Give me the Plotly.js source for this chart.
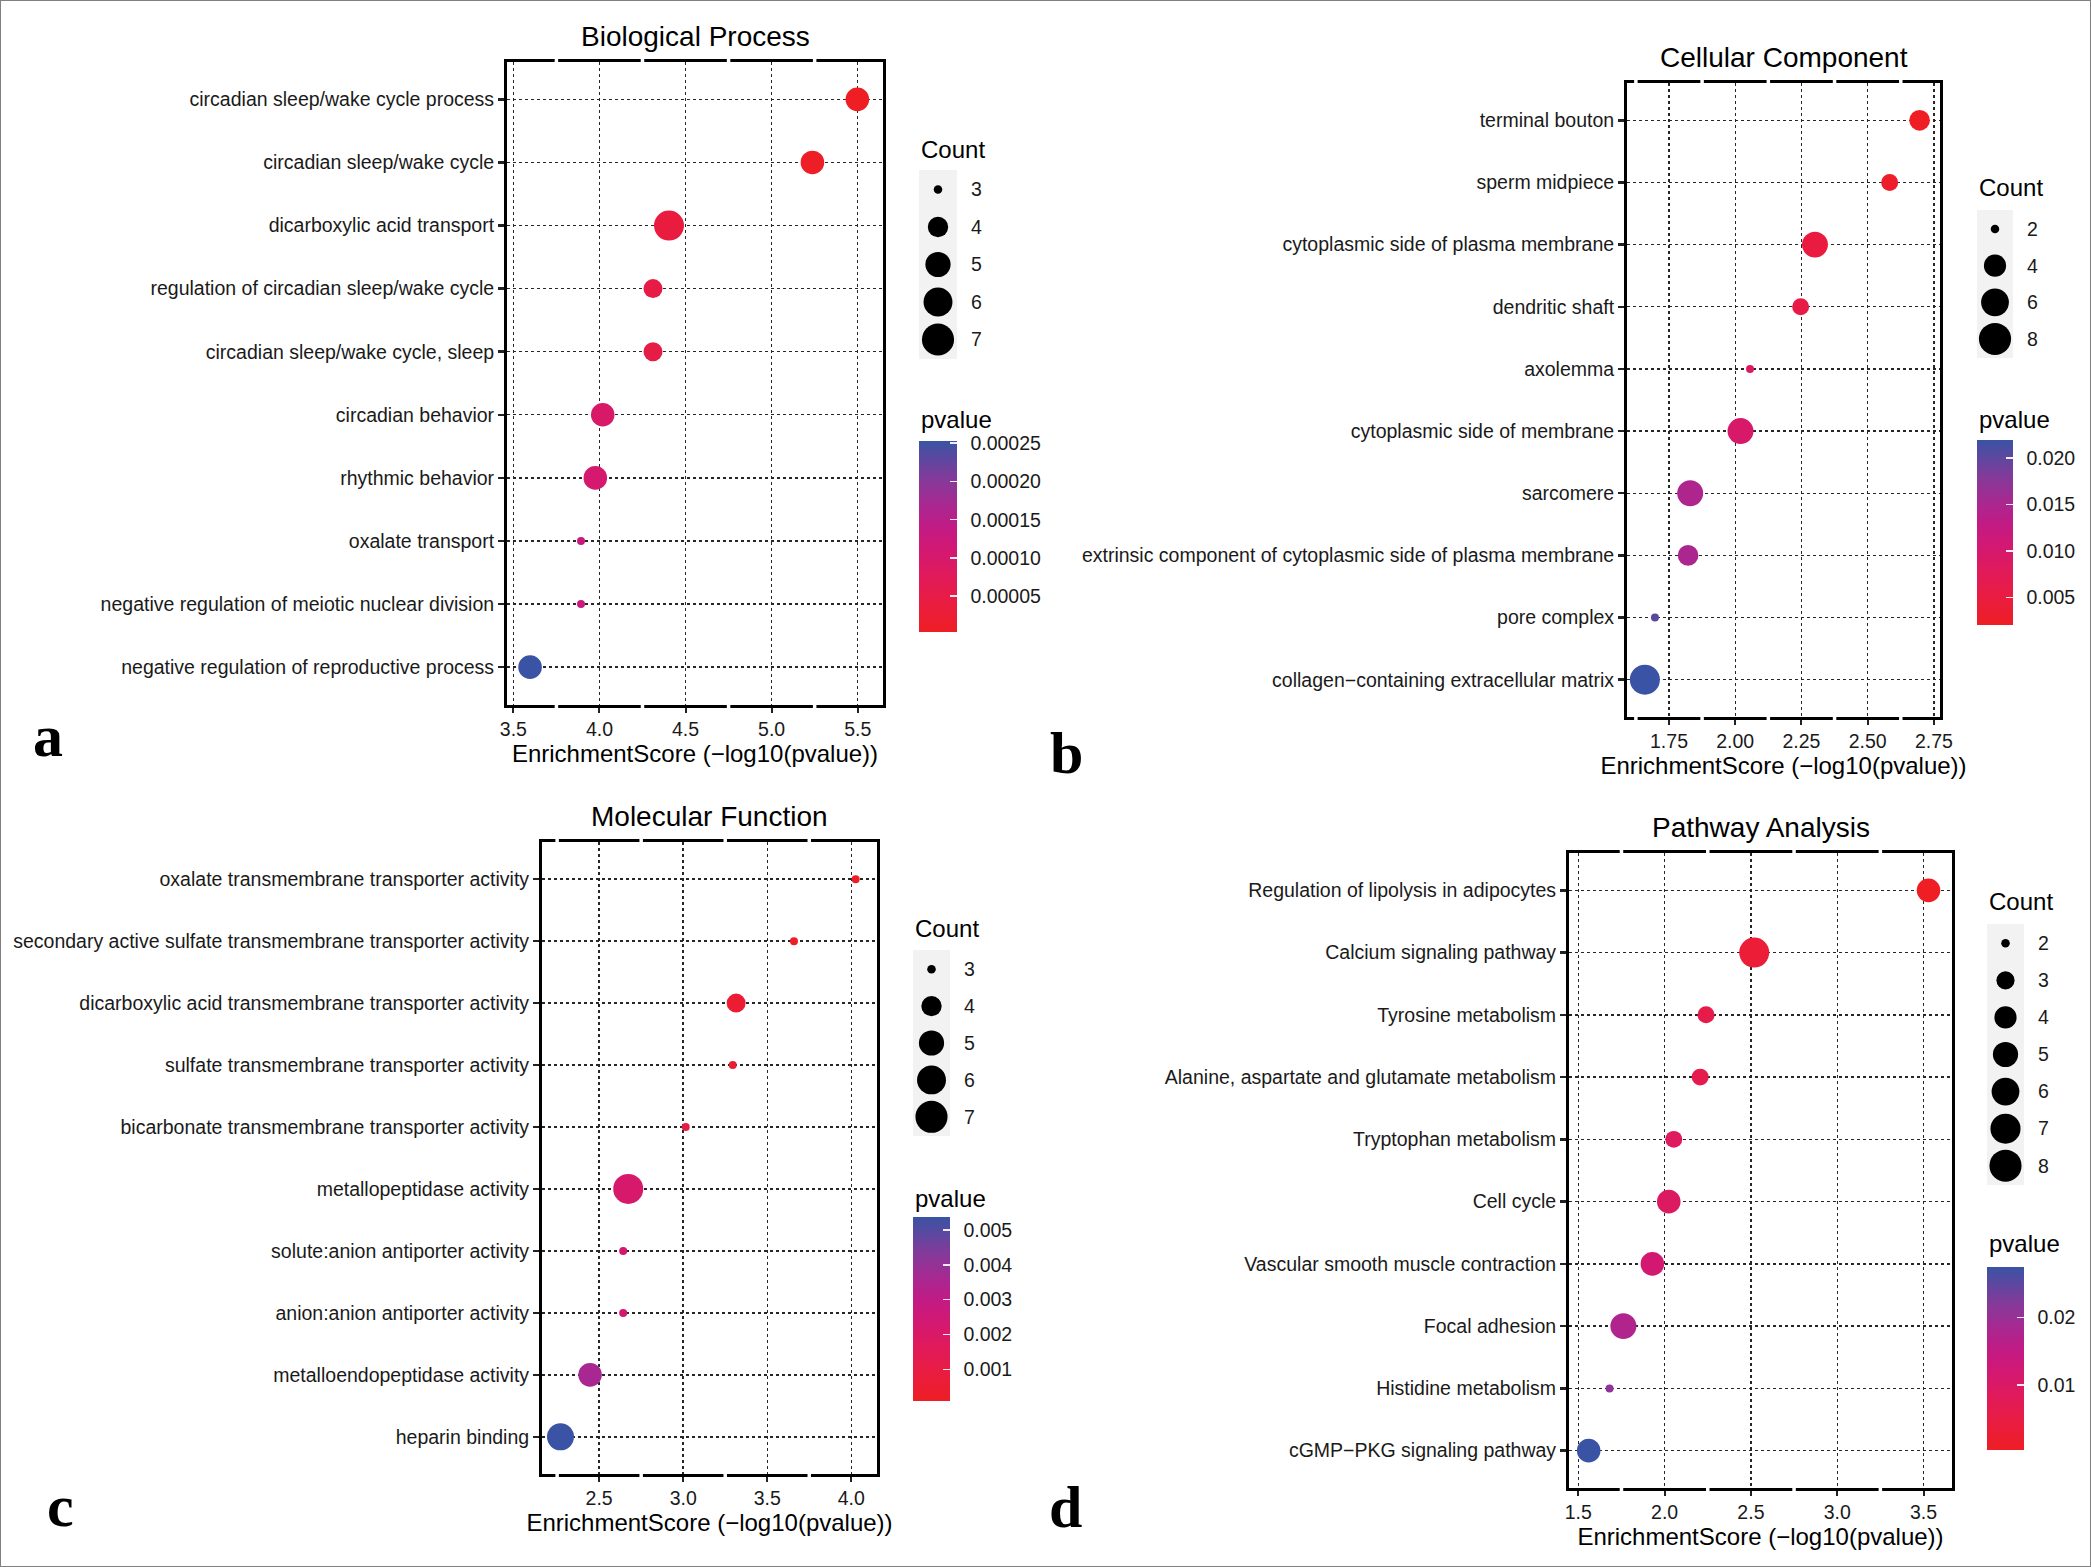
<!DOCTYPE html>
<html>
<head>
<meta charset="utf-8">
<script src="https://cdn.plot.ly/plotly-3.0.1.min.js"></script>
<style>html,body{margin:0;padding:0;background:#fff;}#chart{width:2091px;height:1567px;}</style>
</head>
<body>
<div id="chart"></div>
<script>
// ---------- DATA ----------
// a: Biological Process
const bpTerms = ["circadian sleep/wake cycle process","circadian sleep/wake cycle","dicarboxylic acid transport","regulation of circadian sleep/wake cycle","circadian sleep/wake cycle, sleep","circadian behavior","rhythmic behavior","oxalate transport","negative regulation of meiotic nuclear division","negative regulation of reproductive process"];
const bpScore = [5.498, 5.237, 4.404, 4.311, 4.311, 4.019, 3.976, 3.893, 3.893, 3.597];
const bpCount = [5, 5, 7, 4, 4, 5, 5, 3, 3, 5];
const bpTicks = [3.5, 4.0, 4.5, 5.0, 5.5];
const bpTickText = ["3.5","4.0","4.5","5.0","5.5"];
const bpCountBreaks = [3, 4, 5, 6, 7];
const bpPvalBreaks = [0.00005, 0.00010, 0.00015, 0.00020, 0.00025];
const bpPvalText = ["0.00005","0.00010","0.00015","0.00020","0.00025"];

// b: Cellular Component
const ccTerms = ["terminal bouton","sperm midpiece","cytoplasmic side of plasma membrane","dendritic shaft","axolemma","cytoplasmic side of membrane","sarcomere","extrinsic component of cytoplasmic side of plasma membrane","pore complex","collagen\u2212containing extracellular matrix"];
const ccScore = [2.696, 2.583, 2.301, 2.247, 2.056, 2.020, 1.830, 1.822, 1.697, 1.659];
const ccCount = [4, 3, 6, 3, 2, 6, 6, 4, 2, 8];
const ccTicks = [1.75, 2.00, 2.25, 2.50, 2.75];
const ccTickText = ["1.75","2.00","2.25","2.50","2.75"];
const ccCountBreaks = [2, 4, 6, 8];
const ccPvalBreaks = [0.005, 0.010, 0.015, 0.020];
const ccPvalText = ["0.005","0.010","0.015","0.020"];

// c: Molecular Function
const mfTerms = ["oxalate transmembrane transporter activity","secondary active sulfate transmembrane transporter activity","dicarboxylic acid transmembrane transporter activity","sulfate transmembrane transporter activity","bicarbonate transmembrane transporter activity","metallopeptidase activity","solute:anion antiporter activity","anion:anion antiporter activity","metalloendopeptidase activity","heparin binding"];
const mfScore = [4.026, 3.659, 3.315, 3.295, 3.015, 2.673, 2.643, 2.643, 2.446, 2.270];
const mfCount = [3, 3, 4, 3, 3, 7, 3, 3, 5, 6];
const mfTicks = [2.5, 3.0, 3.5, 4.0];
const mfTickText = ["2.5","3.0","3.5","4.0"];
const mfCountBreaks = [3, 4, 5, 6, 7];
const mfPvalBreaks = [0.001, 0.002, 0.003, 0.004, 0.005];
const mfPvalText = ["0.001","0.002","0.003","0.004","0.005"];

// d: Pathway Analysis
const kgTerms = ["Regulation of lipolysis in adipocytes","Calcium signaling pathway","Tyrosine metabolism","Alanine, aspartate and glutamate metabolism","Tryptophan metabolism","Cell cycle","Vascular smooth muscle contraction","Focal adhesion","Histidine metabolism","cGMP\u2212PKG signaling pathway"];
const kgScore = [3.529, 2.519, 2.240, 2.206, 2.053, 2.024, 1.929, 1.761, 1.681, 1.560];
const kgCount = [5, 8, 3, 3, 3, 5, 5, 6, 2, 5];
const kgTicks = [1.5, 2.0, 2.5, 3.0, 3.5];
const kgTickText = ["1.5","2.0","2.5","3.0","3.5"];
const kgCountBreaks = [2, 3, 4, 5, 6, 7, 8];
const kgPvalBreaks = [0.01, 0.02];
const kgPvalText = ["0.01","0.02"];

const xTitle = "EnrichmentScore (\u2212log10(pvalue))";

// ---------- LAYOUT / STYLE ----------
const W = 2091, H = 1567;
const F = "Liberation Sans, Arial, Helvetica, sans-serif";
const CS = [[0,'rgb(238,30,36)'],[0.15,'rgb(233,28,64)'],[0.3,'rgb(224,26,92)'],[0.45,'rgb(208,24,118)'],[0.55,'rgb(193,27,133)'],[0.65,'rgb(172,38,143)'],[0.8,'rgb(132,58,154)'],[1,'rgb(58,83,164)']];

const panels = [
  {title:"Biological Process", letter:"a", terms:bpTerms, score:bpScore, count:bpCount, ticks:bpTicks, tickText:bpTickText,
   breaks:bpCountBreaks, pvTicks:bpPvalBreaks, pvText:bpPvalText, xr:[3.463,5.647],
   box:{x0:507,x1:883,y0:61.5,y1:705}, leg:{x0:919,x1:957,y0:170,y1:359,countY:149,pvY:420,barTop:441,barBot:632}, lp:[48,736]},
  {title:"Cellular Component", letter:"b", terms:ccTerms, score:ccScore, count:ccCount, ticks:ccTicks, tickText:ccTickText,
   breaks:ccCountBreaks, pvTicks:ccPvalBreaks, pvText:ccPvalText, xr:[1.5915,2.773],
   box:{x0:1627,x1:1940,y0:83,y1:717}, leg:{x0:1977,x1:2013,y0:210,y1:358,countY:188,pvY:420,barTop:440,barBot:625}, lp:[1066,753]},
  {title:"Molecular Function", letter:"c", terms:mfTerms, score:mfScore, count:mfCount, ticks:mfTicks, tickText:mfTickText,
   breaks:mfCountBreaks, pvTicks:mfPvalBreaks, pvText:mfPvalText, xr:[2.160,4.153],
   box:{x0:542,x1:877,y0:842,y1:1474}, leg:{x0:913,x1:950,y0:950,y1:1136,countY:928,pvY:1198,barTop:1217,barBot:1401}, lp:[60,1506]},
  {title:"Pathway Analysis", letter:"d", terms:kgTerms, score:kgScore, count:kgCount, ticks:kgTicks, tickText:kgTickText,
   breaks:kgCountBreaks, pvTicks:kgPvalBreaks, pvText:kgPvalText, xr:[1.446,3.665],
   box:{x0:1569,x1:1952,y0:853,y1:1488}, leg:{x0:1987,x1:2024,y0:924,y1:1185,countY:901.5,pvY:1243,barTop:1267,barBot:1450}, lp:[1065,1507]}
];

const data = [], shapes = [], annotations = [];
const layout = {
  width: W, height: H,
  margin: {l:0, r:0, t:0, b:0, autoexpand:false},
  paper_bgcolor: '#ffffff', plot_bgcolor: 'rgba(0,0,0,0)',
  font: {family: F, color: '#1a1a1a'},
  showlegend: false, hovermode: false
};

panels.forEach((p, k) => {
  const i = k + 1, j = k + 5;
  const xn = i === 1 ? 'x' : 'x' + i, yn = i === 1 ? 'y' : 'y' + i;
  const xk = i === 1 ? 'xaxis' : 'xaxis' + i, yk = i === 1 ? 'yaxis' : 'yaxis' + i;
  const pv = p.score.map(s => Math.pow(10, -s));
  const cmin = Math.min(...pv), cmax = Math.max(...pv);
  const cLo = Math.min(...p.count), cHi = Math.max(...p.count);
  const sz = c => 8 + 22 * Math.sqrt(Math.max(0, (c - cLo)) / (cHi - cLo));

  const cbBase = {
    x: p.leg.x0 / W, xanchor: 'left', xpad: 0,
    y: 1 - p.leg.barTop / H, yanchor: 'top', ypad: 0,
    len: p.leg.barBot - p.leg.barTop, lenmode: 'pixels',
    thickness: p.leg.x1 - p.leg.x0, thicknessmode: 'pixels',
    outlinewidth: 0, borderwidth: 0,
    tickmode: 'array', tickvals: p.pvTicks, ticktext: p.pvText,
    tickfont: {family: F, size: 19.5, color: '#1a1a1a'},
    title: {text: ''}
  };

  // main dots with labelled colorbar
  data.push({
    type: 'scatter', mode: 'markers', x: p.score, y: p.terms, xaxis: xn, yaxis: yn,
    marker: {
      size: p.count.map(sz), color: pv, colorscale: CS, cmin: cmin, cmax: cmax,
      showscale: true, line: {width: 0}, opacity: 1,
      colorbar: Object.assign({}, cbBase, {ticks: 'outside', ticklen: 10, tickwidth: 1, tickcolor: 'rgba(0,0,0,0)'})
    },
    hoverinfo: 'skip', showlegend: false
  });
  // overlay colorbar: white inside tick marks only
  data.push({
    type: 'scatter', mode: 'markers', x: p.score, y: p.terms, xaxis: xn, yaxis: yn,
    marker: {
      size: 1, color: pv, colorscale: CS, cmin: cmin, cmax: cmax, opacity: 0,
      showscale: true, line: {width: 0},
      colorbar: Object.assign({}, cbBase, {showticklabels: false, ticks: 'inside', ticklen: 7, tickwidth: 1.5, tickcolor: 'rgba(255,255,255,0.9)'})
    },
    hoverinfo: 'skip', showlegend: false
  });

  layout[xk] = {
    domain: [p.box.x0 / W, p.box.x1 / W], anchor: yn,
    range: p.xr, tickmode: 'array', tickvals: p.ticks, ticktext: p.tickText,
    showgrid: true, gridcolor: '#262626', gridwidth: 1.4, griddash: 'dot',
    showline: true, mirror: true, linecolor: '#000', linewidth: 3,
    ticks: 'outside', ticklen: 5, tickwidth: 2, tickcolor: '#222',
    tickfont: {family: F, size: 19.5, color: '#1a1a1a'},
    title: {text: xTitle, font: {family: F, size: 24, color: '#000'}, standoff: 4},
    zeroline: false, fixedrange: true
  };
  const n = p.terms.length;
  layout[yk] = {
    domain: [1 - p.box.y1 / H, 1 - p.box.y0 / H], anchor: xn,
    type: 'category', categoryorder: 'array', categoryarray: p.terms,
    range: [n - 0.4, -0.6],
    showgrid: true, gridcolor: '#262626', gridwidth: 1.4, griddash: 'dot',
    showline: true, mirror: true, linecolor: '#000', linewidth: 3,
    ticks: 'outside', ticklen: 6, tickwidth: 2.5, tickcolor: '#222',
    tickfont: {family: F, size: 19.5, color: '#1a1a1a'},
    zeroline: false, fixedrange: true
  };

  // white minor breaks on top/bottom border
  const step = p.ticks[1] - p.ticks[0];
  for (let m = -1; m < p.ticks.length; m++) {
    const v = p.ticks[0] + step / 2 + m * step;
    if (v <= p.xr[0] || v >= p.xr[1]) continue;
    [[-0.006, 0.006], [0.994, 1.006]].forEach(yy => {
      shapes.push({type: 'line', xref: xn, yref: yn + ' domain', x0: v, x1: v, y0: yy[0], y1: yy[1],
                   line: {color: '#ffffff', width: 3.5}, layer: 'above'});
    });
  }

  // panel title
  annotations.push({xref: 'paper', yref: 'paper', x: (p.box.x0 + p.box.x1) / 2 / W, y: 1 - (p.box.y0 - 25.5) / H,
    xanchor: 'center', yanchor: 'middle', showarrow: false, text: p.title,
    font: {family: F, size: 28, color: '#000'}});
  // panel letter
  annotations.push({xref: 'paper', yref: 'paper', x: p.lp[0] / W, y: 1 - p.lp[1] / H,
    xanchor: 'center', yanchor: 'middle', showarrow: false, text: '<b>' + p.letter + '</b>',
    font: {family: 'Liberation Serif, Times New Roman, serif', size: 60, color: '#000'}});
  // legend titles
  annotations.push({xref: 'paper', yref: 'paper', x: p.leg.x0 / W, y: 1 - p.leg.countY / H,
    xanchor: 'left', yanchor: 'middle', showarrow: false, text: 'Count',
    font: {family: F, size: 24, color: '#000'}});
  annotations.push({xref: 'paper', yref: 'paper', x: p.leg.x0 / W, y: 1 - p.leg.pvY / H,
    xanchor: 'left', yanchor: 'middle', showarrow: false, text: 'pvalue',
    font: {family: F, size: 24, color: '#000'}});

  // Count size legend
  const nb = p.breaks.length;
  data.push({
    type: 'scatter', mode: 'markers', x: p.breaks.map(() => 0), y: p.breaks.map((_, q) => q),
    xaxis: 'x' + j, yaxis: 'y' + j,
    marker: {size: p.breaks.map(c => 1.07 * sz(c)), color: '#000000', opacity: 1, line: {width: 0}},
    hoverinfo: 'skip', showlegend: false
  });
  layout['xaxis' + j] = {domain: [p.leg.x0 / W, p.leg.x1 / W], anchor: 'y' + j, range: [-1, 1],
    visible: false, fixedrange: true};
  layout['yaxis' + j] = {domain: [1 - p.leg.y1 / H, 1 - p.leg.y0 / H], anchor: 'x' + j, side: 'right',
    range: [nb - 1 + 0.52, -0.52], tickmode: 'array', tickvals: p.breaks.map((_, q) => q),
    ticktext: p.breaks.map(String), showgrid: false, zeroline: false, showline: false,
    ticks: 'outside', ticklen: 9, tickcolor: 'rgba(0,0,0,0)',
    tickfont: {family: F, size: 19.5, color: '#1a1a1a'}, fixedrange: true};
  shapes.push({type: 'rect', xref: 'x' + j + ' domain', yref: 'y' + j + ' domain', x0: 0, x1: 1, y0: 0, y1: 1,
    fillcolor: '#F2F2F2', line: {width: 0}, layer: 'below'});
});

// outer frame
shapes.push({type: 'rect', xref: 'paper', yref: 'paper', x0: 0, x1: 1, y0: 0, y1: 1,
  line: {color: '#808080', width: 2}, fillcolor: 'rgba(0,0,0,0)', layer: 'above'});

layout.shapes = shapes;
layout.annotations = annotations;

Plotly.newPlot('chart', data, layout, {displayModeBar: false, staticPlot: true});
</script>
</body>
</html>
